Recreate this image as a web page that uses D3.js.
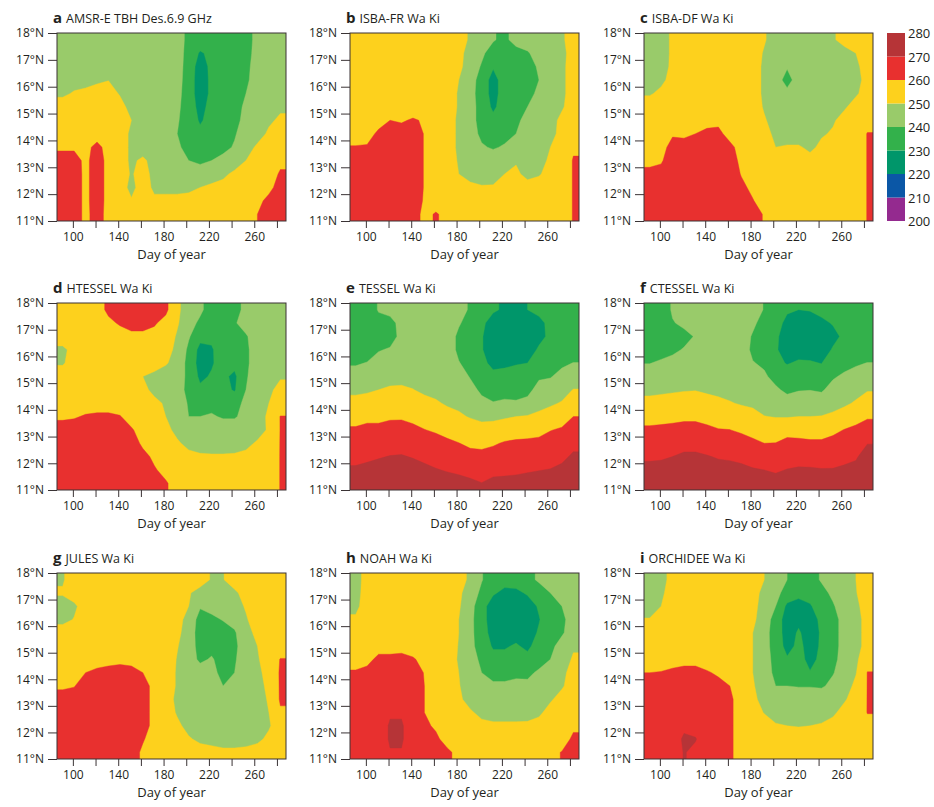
<!DOCTYPE html>
<html><head><meta charset="utf-8">
<script src="https://cdn.jsdelivr.net/npm/d3@7"></script>
<style>
body{margin:0;background:#fff}
text{font-family:"Open Sans","Liberation Sans",Arial,sans-serif;fill:#231f20}
</style>
</head><body>
<svg id="chart" width="934" height="807"></svg>
<script>
// ---- grid coordinates (cell centres) ----
const days = [91,101,111,121,131,141,152,162,172,182,192,202,212,222,232,243,253,263,273,283];
const lats = [17.75,17.25,16.75,16.25,15.75,15.25,14.75,14.25,13.75,13.25,12.75,12.25,11.75,11.25];
const dayDomain = [86, 288];
const latDomain = [11, 18];
const xTicks = [100,120,140,160,180,200,220,240,260,280];
const xTickLabels = [100,140,180,220,260];
const yTicks = [11,12,13,14,15,16,17,18];
const bandLevels = [200,210,220,230,240,250,260,270];
const bandColors = ["#942a8f","#0b57a6","#00966a","#33b14b","#99cb6a","#fdd11d","#e8302f","#b63437"];
const colorbarLabels = [200,210,220,230,240,250,260,270,280];
const panelLetters = ["a","b","c","d","e","f","g","h","i"];
const panelTitles = ["AMSR-E TBH Des.6.9 GHz","ISBA-FR Wa Ki","ISBA-DF Wa Ki","HTESSEL Wa Ki","TESSEL Wa Ki","CTESSEL Wa Ki","JULES Wa Ki","NOAH Wa Ki","ORCHIDEE Wa Ki"];

// ---- brightness temperature grids (K), rows north -> south ----
const panelA = [
[245,245,245,245,245,245,245,245,245,245,245,237,235,235,235,235,236,243,245,245],
[245,245,245,245,245,245,245,245,245,245,245,236,229,232,235,235,236,244,245,245],
[245,245,245,245,245,245,245,245,245,245,245,235,226,232,235,235,237,245,245,245],
[246,246,246,248,249.7,245,245,245,245,245,244,235,225,232,235,235,238,245,245,245],
[248,251,252.7,254.7,255,249,245,245,245,245,243,235,225,232,235,235,240,245,245,245],
[255,255,255,255,255,254,246,245,245,245,242,235,227,233,235,236,242,245,245,248],
[256,256,256,256,256,255,250,245,245,245,241,235,229,233,235,237,243,245,248,252],
[257,257,257,255,256,255,248,245,245,245,240,235,232,235,236,239,245,245,252,255],
[258,258,257,263,256,255,248,245,245,245,242,236,235,236,237,241,245,252,255,255],
[265,265,257,266,256,255,248,252,246,245,245,240,238,240,243,245,250,255,255,258],
[266,266,257,266,256,255,249,254,247,245,245,245,245,245,248,252,255,255,256,261],
[266,266,257,266,256,255,247,255,248,248,248,248,250,252,253,255,255,257,258,263],
[266,266,257,266,256,255,251,255,252,252,252,253,255,255,255,255,256,258,262,265],
[266,266,257,265,256,255,255,255,255,255,255,256,258,258,258,257,257,260,264,266]];
const panelB = [
[255,255,255,255,255,255,255,255,255,253,249,245,241,237,245,245,245,246,249,253],
[255,255,255,255,255,255,255,255,255,253,246,242,235,235,235,239,244,245,248,253],
[255,255,255,255,255,255,255,255,255,252,246,239,231,235,235,237,241,245,248,254],
[255,255,255,255,255,255,255,255,255,250,244,236,226,235,235,236,240,245,248,254],
[255,255,255,255,255,255,255,255,255,249,243,236,226,235,235,237,242,245,248,254],
[255,255,255,255,255,255,255,255,255,249,243,237,228,235,236,240,244,246,249,254],
[255,255,256,260,259,261,259,255,255,248,243,237,233,235,238,243,246,247,252,255],
[256,256,262,265,264,265,259.5,255,255,248,244,238,236,237,240,244,247,248,252,255],
[260.5,261,265,265,265,265,259.5,255,255,248,245,241,239,241,244,246,247,250,253,259],
[265,265,265,265,265,265,259.5,255,255,249,246,245,245,246,249,247,248,251,255,260.5],
[265,265,265,265,265,265,259.5,255,255,250,247,245,246,250,252,247,249,254,255,260.5],
[265,265,265,265,265,265,259.5,255,255,254,252,251,251,253,255,254,255,255,255,260.5],
[265,265,265,265,265,265,259,255,255,255,255,255,255,255,255,255,255,255,255,260.5],
[265,265,265,265,265,265,257,261,257,255,255,255,255,255,255,255,255,255,255,260.5]];
const panelC = [
[245,245,252,255,255,255,255,255,255,255,251,245,245,245,245,246,249,253,255,255],
[245,245,252,255,255,255,255,255,255,255,249,245,245,245,245,245,246,247,250,255],
[245,246,252,255,255,255,255,255,255,255,248,245,241,245,245,245,245,246,248,254],
[246,248,253,255,255,255,255,255,255,255,248,245,236,245,245,245,245,245,247,253],
[249,252,255,255,255,255,255,255,255,255,248,245,243,245,245,245,245,245,249,253],
[255,255,255,255,255,255,255,255,255,255,249,245,245,245,245,245,245,249,253,255],
[255,255,257,256,256,257,258,255,255,255,251,246,245,245,245,245,249,253,255,257],
[255,255,259,258,260,262,262,257,255,255,253,248,245,245,245,249,251,255,255,260.3],
[256,257,263,264,265,265,265,262,257,255,255,250,251,251,248,252,255,255,255,260.3],
[258,259,265,265,265,265,265,264,258,255,255,255,255,255,253,255,255,255,255,260.3],
[262,263,265,265,265,265,265,265,259.5,256,255,255,255,255,255,255,255,255,255,260.3],
[265,265,265,265,265,265,265,265,262,258,255,255,255,255,255,255,255,255,255,260.3],
[265,265,265,265,265,265,265,265,265,260.5,256,255,255,255,255,255,255,255,255,260.3],
[265,265,265,265,265,265,265,265,265,265,259,255,255,255,255,255,255,255,255,260.3]];
const panelD = [
[255,255,255,256,262,265,265,265,265,262,252,245,242,235,235,236,243,245,245,245],
[255,255,255,255,258,261,263,263,261,257,251,244,238,236,236,239,244,245,245,245],
[255,255,255,255,255,256,258,258,257,255,249,241,233,232,235,236,239,245,245,245],
[248,253,255,255,255,255,255,255,255,253,248,238,227,229,235,235,238,245,245,245],
[249,254,255,255,255,255,255,255,255,251,246,237,226,229,234,233,238,245,245,245],
[255,255,255,255,255,255,255,250,247,245,244,238,228,231,232,228,239,245,246,249],
[255,255,255,255,255,255,255,252,248,245,243,238,232,234,233,229,240,245,248,253],
[255,255,255,255,255,255,255,255,252,249,246,239,236,237,236,237,242,245,250,254],
[258,259,261,262,262,260.5,256,255,255,250,246,240,240,241,239,239,243,245,252,260.3],
[265,265,265,265,265,265,261,256,255,252,248,246,245,245,245,245,246,247,251,260.3],
[265,265,265,265,265,265,265,258,256,255,251,248,247,246,246,247,248,251,254,260.3],
[265,265,265,265,265,265,265,263,258,255,255,252,251,251,251,251,252,254,255,260.3],
[265,265,265,265,265,265,265,265,261,257,255,255,255,255,255,255,255,255,255,260.3],
[265,265,265,265,265,265,265,265,265,261,256,255,255,255,255,255,255,255,255,260.3]];
const panelE = [
[232,232,241,242,245,245,245,245,245,243,239,234,231,229,229,230,232,233,235,235],
[232,232,236,238,242,245,245,245,245,241,236,231.5,227,225,224,226,228,232,235,235],
[233,233,236,237,242,245,245,245,245,238,235,230.5,226,224,224,225,228,231.5,235,235],
[235,236,239.5,240.7,243,245,245,245,245,238,235,230.5,226,225,226,226.5,231,234,236,236],
[239,240.4,243,244,244.5,246,246,245,245,240.5,236.5,232,228,228.5,229.5,230,235,236.5,238.5,240.2],
[244,244.7,246.5,247.5,247.5,247.5,247,246,246,243.5,239.5,235,232,232.5,233,234,239,239.5,242.5,245.3],
[248,249,250,251,251.3,250.2,248.5,247.5,247,246,242.5,238.5,236,236.5,236.5,238,242.5,243.7,246.5,250.3],
[253,253,254,255,255.2,254,252.4,251,249,248.5,245,242,240.5,241.5,241,242,247,248.7,250.7,255],
[257,258,258,259,259,258,256.3,255,253,251,249.5,248,248,249,250,250.7,252,254,256,260],
[261,262,262,262.6,263,261.7,260.2,259,257.4,255.7,253.7,253,253.7,255,256,256.7,257.6,259.7,261,263.8],
[265,265,265.7,266.4,266.7,265.6,264,263,261.5,260.2,258.3,258,259,260.8,261.5,261.7,262,263.3,264.5,267.6],
[268,268.5,269.4,270.3,270.6,269.5,268,266.7,265.4,264.4,262.8,262.3,263.5,264.5,265.5,265.5,266,266.8,268,271.4],
[271,272,273,274,274,273.4,272,270.5,269.4,268.5,267.2,266.2,267.8,268.3,268.6,269.2,269.8,270.3,272,275],
[275,275,276,277,277,277,276,274.5,273.4,272.7,271.7,270.2,272,272,272.4,273,273.6,274,275.5,278]];
const panelF = [
[232,235,241,244,244,245,245,245,245,244,239.5,235,231,230,230.5,232,234,234,235,235],
[232,233,239.5,241.5,243,245,245,245,245,242,236,233,228,226,226,228.5,230.5,232,235,235],
[233,234,236,238,240.5,245,245,245,245,239,235,231.5,226,225,225,226,228,231.5,235,235],
[236,237.4,238.7,240.5,242,245,245,245,245,238,235,231,226,227,227,226.5,230.7,233,236,236],
[239.8,241,242,243.5,244.5,245.5,245,245,245,240.5,238.5,232,229.5,231,230.7,229.8,234.5,237,239,240.2],
[243.9,244.8,245.5,246.5,247,247.5,246.5,245,245,243.2,241.4,237,234,234.5,234.5,234,239,241.5,243,244.8],
[248,248.5,249,249.5,249.7,248.7,248,247.5,246.5,246,244.3,241.5,238,239.5,239.8,239,243,245,247,249.4],
[252.4,252.8,253.3,253.7,254,253,251.8,250.5,249.3,248.6,247.2,245.5,244,244.7,244.8,244.5,247,248.5,251,254.2],
[257,257.4,258,258.3,258.3,257.3,256,255.3,253.9,252.4,250.2,249.6,249.5,250,250,250.3,251.6,254,257,259],
[261.4,261.7,262,262.8,262.8,261.7,260.4,260.1,258.8,257,255,254.8,256,256.7,256,256,258,260.3,261.7,264],
[265,265.3,266,267.2,267.2,266,264.9,264.4,263.3,261.8,260,260.2,263,262,261.5,261.5,262.7,264,265.2,269.7],
[268.7,269,270,271.5,271.5,270.5,269.3,268.7,267.8,266.3,265,265,266.3,266.7,266.2,266,266.5,267.6,269,274],
[272.4,272.7,273.5,275,275,274,273,273,272,270.7,270,269,270.3,271,271,270.5,270.5,271.5,272.5,277],
[276,276,277,278,278,277,276,276,275.5,275,274,273,274,275,275,275,274.5,275,276,280]];
const panelG = [
[249,255,255,255,255,255,255,255,255,255,255,255,255,249,249.5,255,255,255,255,255],
[251,255,255,255,255,255,255,255,255,255,255,251,246,245,245,248,254,255,255,255],
[246,248,255,255,255,255,255,255,255,255,255,250,241,243,245,246,251,255,255,255],
[247,250.5,255,255,255,255,255,255,255,255,253,247,236,238,240.5,243,249,255,255,255],
[255,255,255,255,255,255,255,255,255,255,252,246,235,238,236,239,246,253,255,255],
[255,255,255,255,255,255,255,255,255,255,250.5,245.5,236,237,235,238,245,250,255,256],
[255,255,255,256,257,257.5,257,255,255,255,249.5,245,238,241,236,239,245,249,255,260.3],
[255,255,260,262,263,264,263,260,255,255,249,245,245,243,237,240,245,248,253,261],
[258,259.5,265,265,265,265,265,264,257,255,249,245,245,245,240,243,245,247,252,261],
[265,265,265,265,265,265,265,264,257,253,248.5,245,245,245,245,245,245,246,251,261],
[265,265,265,265,265,265,265,264,257,255,249,245,245,245,245,245,245,246,250,259],
[265,265,265,265,265,265,265,264,257,255,252,247,245,245,245,245,245,245,249,255],
[265,265,265,265,265,265,265,261,255,255,255,251,248,247,246,246,246,248,252,255],
[265,265,265,265,265,265,265,258,255,255,255,255,254,253,252,252,253,254,255,255]];
const panelH = [
[245,255,255,255,255,255,255,255,255,254,248,240.5,235,233,234,237,241.5,245,245,246],
[246,255,255,255,255,255,255,255,255,252,245,238,231,228,228,231,235,240,245,247],
[247.5,255,255,255,255,255,255,255,255,251,244,233,226,224,224,226,231,236,240,246],
[251.5,255,255,255,255,255,255,255,255,250,243,233,226,225,225,225,229.5,235,238,244],
[255,255,255,255,255,255,255,255,255,250,243,233.5,227,227,226.5,226,231,235,239,244],
[255,255,256,256,256.5,255.5,255,255,255,249.5,243,235,229,229,231,228,234,238,243,249],
[256,257,262.5,262.5,263,261,257,255,255,249,244,238,233,233,234,233,236,240,246,251],
[261,263,265,265,265,265,259.5,255,255,250,245,240,236,236,237.5,238,241.5,245,248,253],
[265,265,265,265,265,265,260,255,255,250.5,246,244,242,242,243,242,244,246,249,254],
[265,265,265,265,265,265,260,255,255,252,246,245,245,245,245,245,245,249,253,255],
[265,265,265,269,269,265,260,255,255,255,251.5,247,245.5,245.5,245.5,246,248.5,253,255,255],
[265,265,265,271,271,265,262,258.5,255,255,255,253,252,252,252,252,253,255,255,258],
[265,265,265,271,271,265,265,262,256,255,255,255,255,255,255,255,255,255,255,262],
[265,265,265,269.5,269.5,265,265,265,262,257,255,255,255,255,255,255,255,257,260.5,265]];
const panelI = [
[245,246,254,255,255,255,255,255,255,255,250,245,240,235,236,241,245,245,250,255],
[245,248,255,255,255,255,255,255,255,254,247,243,236,233,234,237,242,245,249.5,255],
[246,250,255,255,255,255,255,255,255,253,246,240,228,226,229,235,239,245,248,254],
[250.5,254,255,255,255,255,255,255,255,252,245,236,225,228,226,232,237,243,247,253],
[255,255,255,255,255,255,255,255,255,250,244,235,226,231,226,231,237,243,247,253],
[255,255,255,255,255,255,255,255,255,250,244,235.5,227,232,227,231,237,243,247,253],
[255,255,256,257,257,255,255,255,255,250,244,237,231,233,227.5,232,238,243,248,257],
[260,260.5,262,263,263,261,258.5,255,255,250,244,238,234,234,230.5,233,239.5,244,249.5,260.2],
[265,265,265,265,265,265,263,260,255,251,245,240,240,239.5,239.5,239,242,246,252,260.2],
[265,265,265,265,265,265,265,262,255,252,247,245,245,245,245,245,246,249,254,260.2],
[265,265,265,265,265,265,265,262,255,255,249.5,246,245,245,245,246,248.5,253,255,260.2],
[265,265,265,268,267,265,265,262,255,255,255,251,250,249.5,250,251,253,255,255,258],
[265,265,265,271.5,270.5,265,265,262,255,255,255,255,255,255,255,255,255,255,255,255],
[265,265,265,270.5,268,265,265,262,255,255,255,255,255,255,255,255,255,255,255,255]];

const grids = [panelA,panelB,panelC,panelD,panelE,panelF,panelG,panelH,panelI];

// ---- layout ----
const colLeft = [57, 350, 644], panelW = 229;
const rowTop = [33, 303, 573], rowBottom = [221, 490, 759];
const svg = d3.select("#chart");
const defs = svg.append("defs");

const nx = days.length, ny = lats.length;
const idxToDay = d3.scaleLinear().domain([0.5, nx - 0.5]).range([days[0], days[nx - 1]]);
const idxToLat = d3.scaleLinear().domain([0.5, ny - 0.5]).range([lats[0], lats[ny - 1]]);
const bandColor = d3.scaleOrdinal().domain(bandLevels).range(bandColors);

function padGrid(grid) {
  const out = [];
  for (let j = -1; j <= ny; j++) {
    const r = grid[Math.max(0, Math.min(ny - 1, j))];
    for (let i = -1; i <= nx; i++) out.push(r[Math.max(0, Math.min(nx - 1, i))]);
  }
  return out;
}
const contourGen = d3.contours().size([nx + 2, ny + 2]).thresholds(bandLevels);
const FONT = '"Open Sans","Liberation Sans",Arial,sans-serif';

grids.forEach((grid, k) => {
  const c = k % 3, r = Math.floor(k / 3);
  const x0 = colLeft[c], y0 = rowTop[r], y1 = rowBottom[r];
  const x = d3.scaleLinear().domain(dayDomain).range([x0, x0 + panelW]);
  const y = d3.scaleLinear().domain(latDomain).range([y1, y0]);

  defs.append("clipPath").attr("id", "clip" + k)
    .append("rect").attr("x", x0).attr("y", y0).attr("width", panelW).attr("height", y1 - y0);

  const proj = d3.geoTransform({
    point(px, py) { this.stream.point(x(idxToDay(px - 1)), y(idxToLat(py - 1))); }
  });
  const path = d3.geoPath(proj);
  const g = svg.append("g").attr("clip-path", `url(#clip${k})`);
  g.selectAll("path").data(contourGen(padGrid(grid))).join("path")
    .attr("d", path)
    .attr("fill", d => bandColor(d.value))
    .attr("stroke", d => bandColor(d.value))
    .attr("stroke-width", 0.4);

  // frame
  svg.append("rect").attr("x", x0).attr("y", y0).attr("width", panelW).attr("height", y1 - y0)
    .attr("fill", "none").attr("stroke", "#3a3335").attr("stroke-width", 1);

  // axes
  const ax = svg.append("g").attr("transform", `translate(0,${y1})`)
    .call(d3.axisBottom(x).tickValues(xTicks).tickSize(7).tickPadding(4)
      .tickFormat(d => xTickLabels.includes(d) ? d : ""));
  const ay = svg.append("g").attr("transform", `translate(${x0},0)`)
    .call(d3.axisLeft(y).tickValues(yTicks).tickSize(9).tickPadding(4)
      .tickFormat(d => d + "°N"));
  [ax, ay].forEach(a => {
    a.select(".domain").remove();
    a.selectAll(".tick line").attr("stroke", "#3a3335");
    a.selectAll(".tick text").attr("fill", "#231f20")
      .style("font-family", FONT).style("font-size", "12px");
  });

  svg.append("text").attr("x", x0 + panelW / 2).attr("y", y1 + 38)
    .attr("text-anchor", "middle").style("font-size", "13px").text("Day of year");

  const t = svg.append("text").attr("x", x0 - 4).attr("y", y0 - 10);
  t.append("tspan").style("font-weight", "bold").style("font-size", "15px").text(panelLetters[k]);
  t.append("tspan").attr("dx", 4).style("font-size", "12.5px").text(panelTitles[k]);
});

// ---- colour bar ----
const cb = d3.scaleLinear().domain([200, 280]).range([221, 33]);
const cbX = 887, cbW = 18;
svg.append("g").selectAll("rect").data(bandLevels).join("rect")
  .attr("x", cbX).attr("width", cbW)
  .attr("y", d => cb(d + 10)).attr("height", d => cb(d) - cb(d + 10))
  .attr("fill", d => bandColor(d));
svg.append("g").selectAll("text").data(colorbarLabels).join("text")
  .attr("x", cbX + cbW + 3).attr("y", d => cb(d) + 5)
  .style("font-size", "13px").text(d => d);
</script>
</body></html>
